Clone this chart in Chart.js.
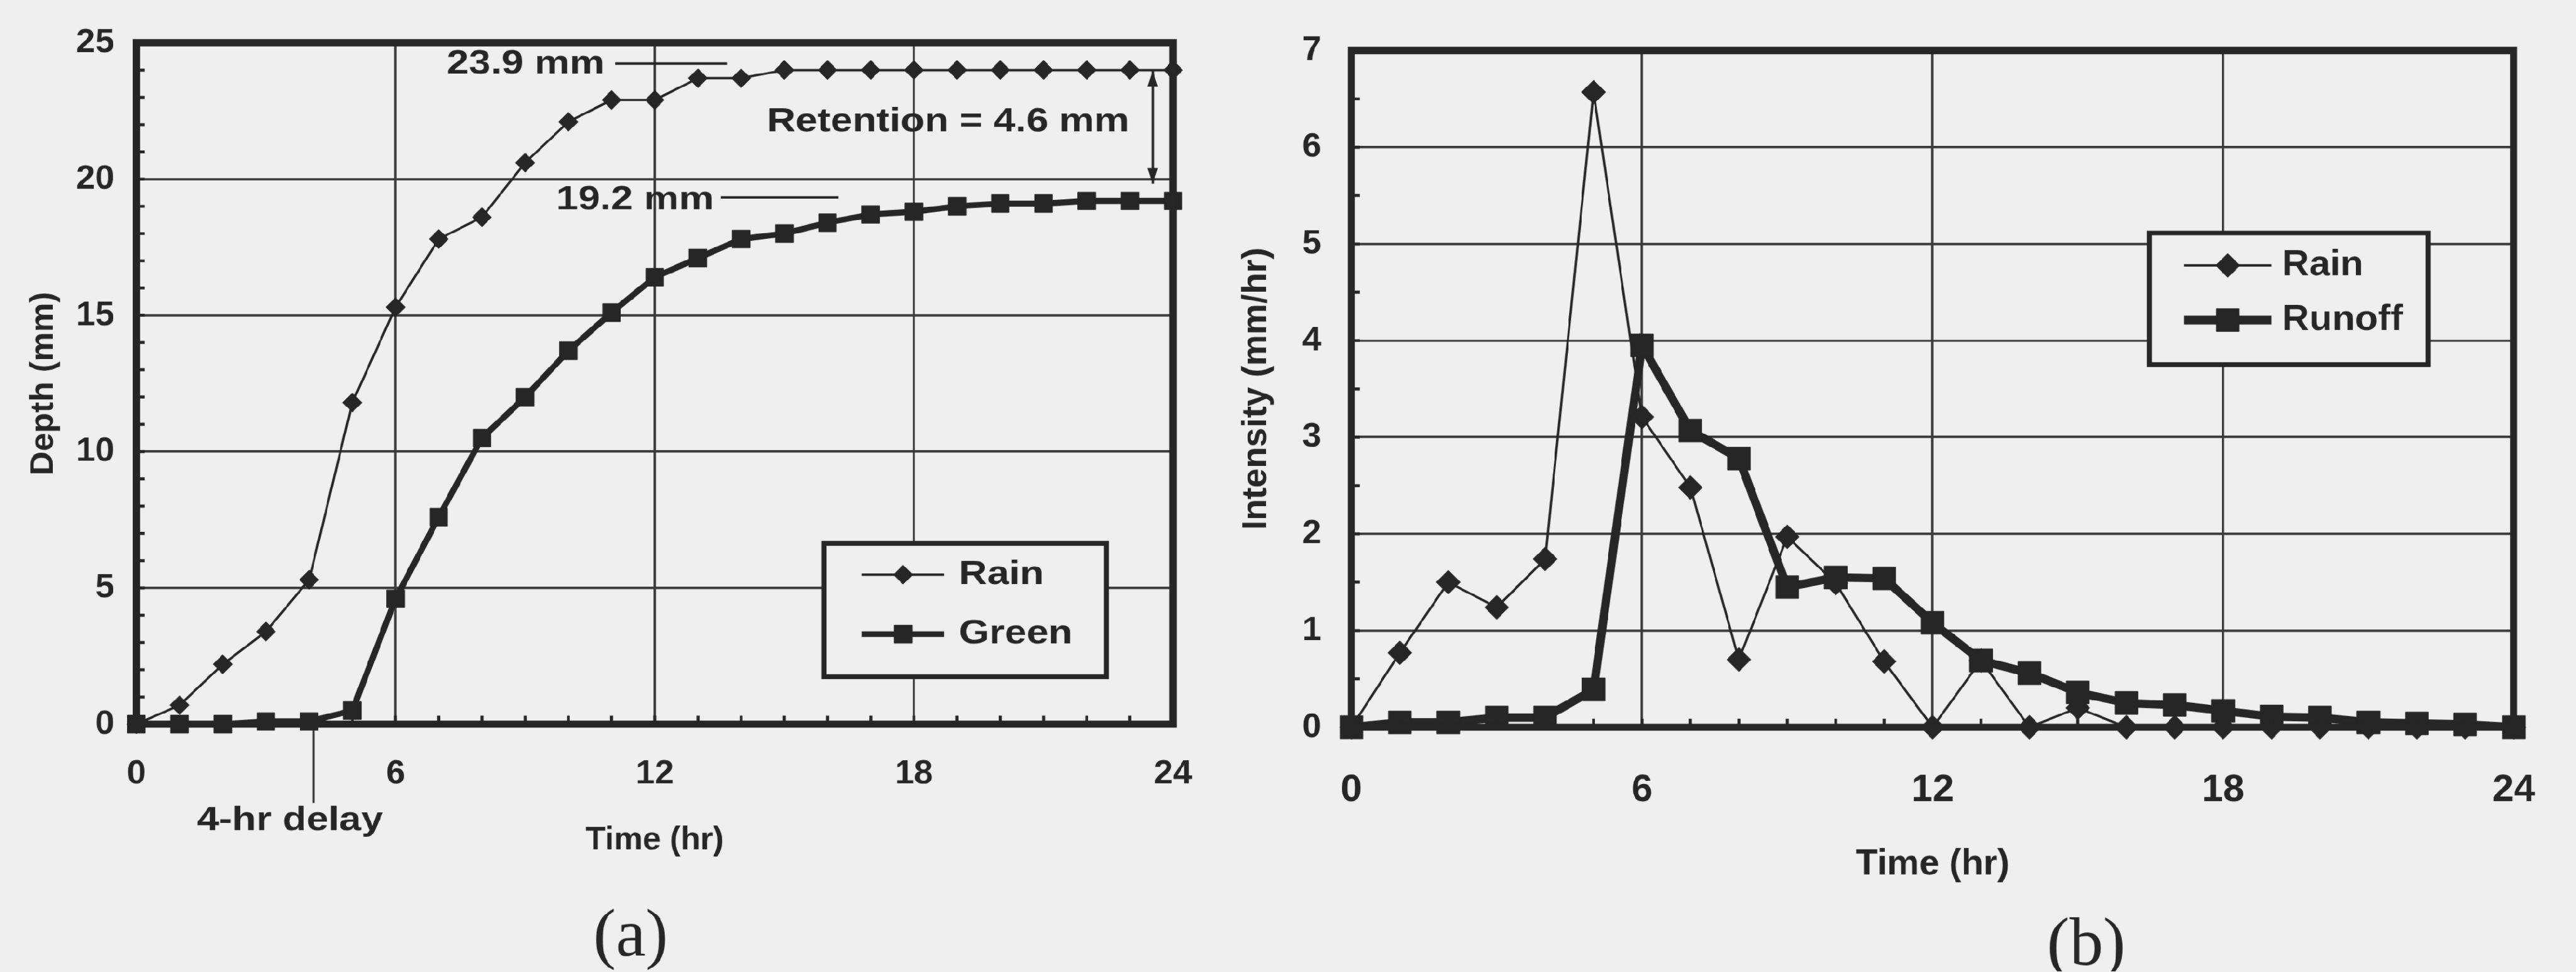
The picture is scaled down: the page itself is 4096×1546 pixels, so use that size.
<!DOCTYPE html>
<html>
<head>
<meta charset="utf-8">
<script src="https://cdn.jsdelivr.net/npm/chart.js@4.4.1/dist/chart.umd.min.js"></script>
<style>
  html, body { margin: 0; padding: 0; background: #efefed; overflow: hidden; }
  #page { position: absolute; left: 0; top: 0; width: 4287px; height: 1618px; transform: scale(0.955); transform-origin: 0 0; }
  canvas { position: absolute; top: 0; }
  #chartA { left: 0; }
  #chartB { left: 2040px; }
</style>
</head>
<body>
<div id="page">
  <canvas id="chartA" width="2040" height="1618"></canvas>
  <canvas id="chartB" width="2247" height="1618"></canvas>
</div>
<script>
// ---------------------------- data ----------------------------
const hours = [0, 1, 2, 3, 4, 5, 6, 7, 8, 9, 10, 11, 12, 13, 14, 15, 16, 17, 18, 19, 20, 21, 22, 23, 24];

// (a) cumulative depth, mm
const rainDepth = [0, 0.7, 2.2, 3.4, 5.3, 11.8, 15.3, 17.8, 18.6, 20.6, 22.1, 22.9, 22.9, 23.7, 23.7,
  24.0, 24.0, 24.0, 24.0, 24.0, 24.0, 24.0, 24.0, 24.0, 24.0];
const greenDepth = [0, 0, 0, 0.1, 0.1, 0.5, 4.6, 7.6, 10.5, 12.0, 13.7, 15.1, 16.4, 17.1, 17.8,
  18.0, 18.4, 18.7, 18.8, 19.0, 19.1, 19.1, 19.2, 19.2, 19.2];

// (b) intensity, mm/hr
const rainIntensity = [0, 0.77, 1.5, 1.24, 1.74, 6.57, 3.21, 2.48, 0.7, 1.97, 1.49, 0.68, 0, 0.69, 0,
  0.2, 0, 0, 0, 0, 0, 0, 0, 0, 0];
const runoffIntensity = [0, 0.05, 0.05, 0.1, 0.1, 0.39, 3.95, 3.07, 2.78, 1.45, 1.55, 1.54, 1.08, 0.69, 0.56,
  0.36, 0.25, 0.23, 0.17, 0.11, 0.1, 0.05, 0.04, 0.03, 0];

const xTicks = [0, 6, 12, 18, 24];
const depthTicks = [0, 5, 10, 15, 20, 25];
const intensityTicks = [0, 1, 2, 3, 4, 5, 6, 7];

// ---------------------------- look ----------------------------
const INK = '#262626';
const GRID = '#3a3a3a';
const BG = '#efefed';
const SANS = '"Liberation Sans", Arial, sans-serif';
const SERIF = '"Liberation Serif", "Times New Roman", serif';

function pts(ys) {
  return hours.map((h, i) => ({ x: h, y: ys[i] }));
}

// wide-ish bold text like the scanned labels
function wideText(ctx, str, x, y, size, stretch, align) {
  ctx.save();
  ctx.font = 'bold ' + size + 'px ' + SANS;
  ctx.fillStyle = INK;
  ctx.textBaseline = 'middle';
  ctx.textAlign = align || 'left';
  ctx.translate(x, y);
  ctx.scale(stretch, 1);
  ctx.fillText(str, 0, 0);
  ctx.restore();
}

function line(ctx, x1, y1, x2, y2) {
  ctx.beginPath();
  ctx.moveTo(x1, y1);
  ctx.lineTo(x2, y2);
  ctx.stroke();
}

// frame round the plot + little minor ticks on the inside
const framePlugin = {
  id: 'frame',
  afterDatasetsDraw(chart, args, opts) {
    const { ctx, chartArea: a } = chart;
    const xs = chart.scales.x, ys = chart.scales.y;
    ctx.save();
    ctx.strokeStyle = INK;
    ctx.lineWidth = 5;
    let n = Math.round((ys.max - ys.min) / opts.yMinor);
    for (let i = 1; i < n; i++) {
      const py = ys.getPixelForValue(ys.min + i * opts.yMinor);
      line(ctx, a.left, py, a.left + opts.tick, py);
    }
    n = Math.round((xs.max - xs.min) / opts.xMinor);
    for (let i = 1; i < n; i++) {
      const px = xs.getPixelForValue(xs.min + i * opts.xMinor);
      line(ctx, px, a.bottom, px, a.bottom - opts.tick);
    }
    ctx.lineWidth = opts.width;
    ctx.strokeRect(a.left, a.top, a.right - a.left, a.bottom - a.top);
    ctx.restore();
  }
};

// boxed legend placed inside the plot
const boxLegendPlugin = {
  id: 'boxLegend',
  afterDatasetsDraw(chart, args, opts) {
    const ctx = chart.ctx;
    const b = opts.box;
    ctx.save();
    ctx.fillStyle = BG;
    ctx.fillRect(b[0], b[1], b[2], b[3]);
    ctx.strokeStyle = INK;
    ctx.lineWidth = 8;
    ctx.strokeRect(b[0], b[1], b[2], b[3]);
    chart.data.datasets.forEach((ds, i) => {
      const y = opts.rows[i];
      ctx.strokeStyle = INK;
      ctx.fillStyle = INK;
      ctx.lineWidth = ds.borderWidth;
      line(ctx, opts.lineX[0], y, opts.lineX[1], y);
      ctx.lineWidth = 1;
      Chart.helpers.drawPoint(ctx, { pointStyle: ds.pointStyle, radius: ds.pointRadius, rotation: 0, borderWidth: 1 },
        (opts.lineX[0] + opts.lineX[1]) / 2, y);
      wideText(ctx, ds.label, opts.textX, y, opts.size, opts.stretch);
    });
    ctx.restore();
  }
};

// free text, leader lines, arrow, panel label
const notesPlugin = {
  id: 'notes',
  afterDraw(chart, args, opts) {
    const ctx = chart.ctx;
    ctx.save();
    (opts.texts || []).forEach(t => wideText(ctx, t[0], t[1], t[2], t[3], t[4]));
    ctx.strokeStyle = INK;
    ctx.lineWidth = 4;
    (opts.lines || []).forEach(l => line(ctx, l[0], l[1], l[2], l[3]));
    (opts.arrows || []).forEach(ar => {
      const [x, y1, y2] = ar;
      line(ctx, x, y1, x, y2);
      ctx.fillStyle = INK;
      ctx.beginPath();
      ctx.moveTo(x, y1); ctx.lineTo(x - 9, y1 + 26); ctx.lineTo(x + 9, y1 + 26); ctx.closePath(); ctx.fill();
      ctx.beginPath();
      ctx.moveTo(x, y2); ctx.lineTo(x - 9, y2 - 26); ctx.lineTo(x + 9, y2 - 26); ctx.closePath(); ctx.fill();
    });
    if (opts.panel) {
      ctx.font = opts.panel[3] + 'px ' + SERIF;
      ctx.fillStyle = INK;
      ctx.textAlign = 'center';
      ctx.textBaseline = 'alphabetic';
      ctx.fillText(opts.panel[0], opts.panel[1], opts.panel[2]);
    }
    ctx.restore();
  }
};

function tickFont(size) {
  return { family: SANS, size: size, weight: 'bold' };
}

// ---------------------------- (a) depth ----------------------------
new Chart(document.getElementById('chartA'), {
  type: 'line',
  data: {
    datasets: [
      { label: 'Rain', data: pts(rainDepth), borderColor: INK, backgroundColor: INK, borderWidth: 4,
        pointStyle: 'rectRot', pointRadius: 16, pointBorderWidth: 1, tension: 0, clip: false },
      { label: 'Green', data: pts(greenDepth), borderColor: INK, backgroundColor: INK, borderWidth: 10,
        pointStyle: 'rect', pointRadius: 21, pointBorderWidth: 1, tension: 0, clip: false }
    ]
  },
  options: {
    responsive: false,
    animation: false,
    devicePixelRatio: 0.955,
    layout: { padding: { left: 0, right: 87, top: 60, bottom: 172 } },
    plugins: {
      legend: { display: false },
      tooltip: { enabled: false },
      frame: { width: 12, yMinor: 1, xMinor: 1, tick: 14 },
      boxLegend: { box: [1372, 905, 470, 222], rows: [957, 1056], lineX: [1435, 1572], textX: 1596, size: 57, stretch: 1.15 },
      notes: {
        texts: [
          ['23.9 mm', 744, 107, 57, 1.15],
          ['19.2 mm', 926, 333, 57, 1.15],
          ['Retention = 4.6 mm', 1277, 203, 57, 1.15],
          ['4-hr delay', 328, 1367, 57, 1.15]
        ],
        lines: [[1024, 106, 1210, 106], [1200, 329, 1396, 329], [522, 1212, 522, 1337]],
        arrows: [[1919, 118, 306]],
        panel: ['(a)', 1050, 1592, 112]
      }
    },
    scales: {
      x: {
        type: 'linear', min: 0, max: 24,
        afterBuildTicks: s => { s.ticks = xTicks.map(v => ({ value: v })); },
        ticks: { font: tickFont(57), color: INK, padding: 49, maxRotation: 0 },
        grid: { color: GRID, lineWidth: 4, drawTicks: false },
        border: { display: false },
        title: { display: true, text: 'Time (hr)', color: INK, font: tickFont(54), padding: { top: 0, bottom: 14 } },
        afterFit: s => { s.height = 240; }
      },
      y: {
        min: 0, max: 25,
        afterBuildTicks: s => { s.ticks = depthTicks.map(v => ({ value: v })); },
        ticks: { font: tickFont(57), color: INK, padding: 37 },
        grid: { color: GRID, lineWidth: 4, drawTicks: false },
        border: { display: false },
        title: { display: true, text: 'Depth (mm)', color: INK, font: tickFont(55), padding: { top: 40, bottom: 0 } },
        afterFit: s => { s.width = 227; }
      }
    }
  },
  plugins: [framePlugin, boxLegendPlugin, notesPlugin]
});

// ---------------------------- (b) intensity ----------------------------
new Chart(document.getElementById('chartB'), {
  type: 'line',
  data: {
    datasets: [
      { label: 'Rain', data: pts(rainIntensity), borderColor: INK, backgroundColor: INK, borderWidth: 4,
        pointStyle: 'rectRot', pointRadius: 20, pointBorderWidth: 1, tension: 0, clip: false },
      { label: 'Runoff', data: pts(runoffIntensity), borderColor: INK, backgroundColor: INK, borderWidth: 14,
        pointStyle: 'rect', pointRadius: 27, pointBorderWidth: 1, tension: 0, clip: false }
    ]
  },
  options: {
    responsive: false,
    animation: false,
    devicePixelRatio: 0.955,
    layout: { padding: { left: 0, right: 65, top: 57, bottom: 137 } },
    plugins: {
      legend: { display: false },
      tooltip: { enabled: false },
      frame: { width: 12, yMinor: 0.5, xMinor: 1, tick: 14 },
      boxLegend: { box: [1538, 388, 464, 219], rows: [442, 533], lineX: [1596, 1741], textX: 1759, size: 60, stretch: 1.04 },
      notes: { panel: ['(b)', 1433, 1606, 112] }
    },
    scales: {
      x: {
        type: 'linear', min: 0, max: 24,
        afterBuildTicks: s => { s.ticks = xTicks.map(v => ({ value: v })); },
        ticks: { font: tickFont(64), color: INK, padding: 67, maxRotation: 0 },
        grid: { color: GRID, lineWidth: 4, drawTicks: false },
        border: { display: false },
        title: { display: true, text: 'Time (hr)', color: INK, font: tickFont(60), padding: { top: 0, bottom: 5 } },
        afterFit: s => { s.height = 270; }
      },
      y: {
        min: 0, max: 7,
        afterBuildTicks: s => { s.ticks = intensityTicks.map(v => ({ value: v })); },
        ticks: { font: tickFont(57), color: INK, padding: 50 },
        grid: { color: GRID, lineWidth: 4, drawTicks: false },
        border: { display: false },
        title: { display: true, text: 'Intensity (mm/hr)', color: INK, font: tickFont(58), padding: { top: 17, bottom: 0 } },
        afterFit: s => { s.width = 210; }
      }
    }
  },
  plugins: [framePlugin, boxLegendPlugin, notesPlugin]
});
</script>
</body>
</html>
